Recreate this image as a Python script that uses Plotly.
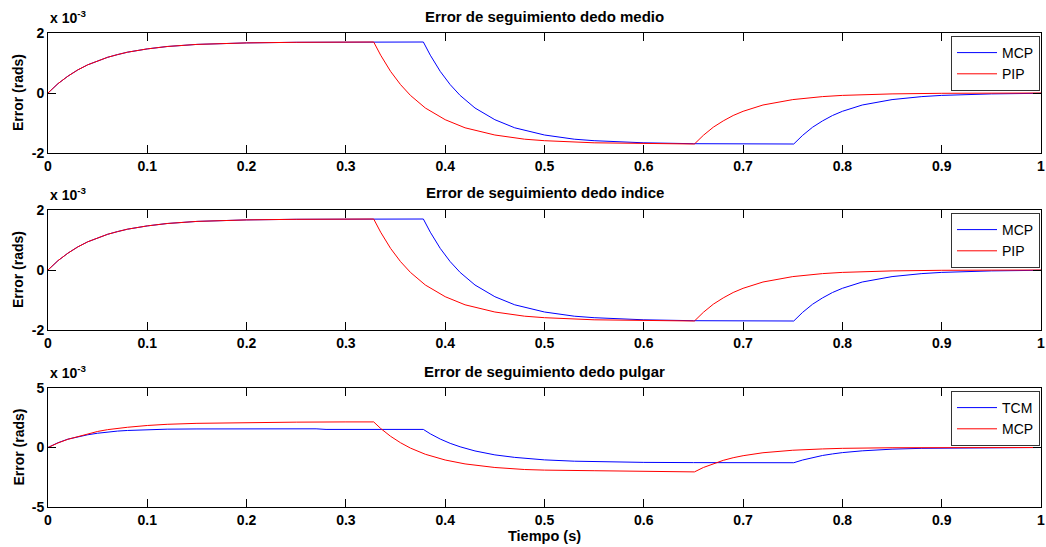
import plotly.graph_objects as go

W, H = 1046, 547

# ---- Dedo medio / dedo indice (values in units of 1e-3 rad) ----
t_pip = [0, 0.005, 0.01, 0.02, 0.03, 0.04, 0.05, 0.06, 0.07, 0.08, 0.1, 0.12, 0.15, 0.2, 0.25, 0.3,
         0.328, 0.335, 0.345, 0.355, 0.365, 0.38, 0.4, 0.42, 0.45, 0.48, 0.5, 0.55, 0.6, 0.651,
         0.66, 0.67, 0.68, 0.69, 0.7, 0.72, 0.75, 0.78, 0.8, 0.85, 0.9, 1.0]
pip_medio = [0, 0.16, 0.31, 0.56, 0.77, 0.94, 1.07, 1.19, 1.28, 1.36, 1.47, 1.55, 1.62, 1.67, 1.69, 1.70,
             1.70, 1.26, 0.72, 0.28, -0.08, -0.50, -0.89, -1.16, -1.40, -1.54, -1.59, -1.66, -1.69, -1.70,
             -1.41, -1.14, -0.93, -0.75, -0.61, -0.40, -0.22, -0.12, -0.08, -0.03, -0.01, 0]
t_mcp = [0, 0.005, 0.01, 0.02, 0.03, 0.04, 0.05, 0.06, 0.07, 0.08, 0.1, 0.12, 0.15, 0.2, 0.25, 0.3,
         0.378, 0.385, 0.395, 0.405, 0.415, 0.43, 0.45, 0.47, 0.5, 0.53, 0.55, 0.6, 0.65, 0.751,
         0.76, 0.77, 0.78, 0.79, 0.8, 0.82, 0.85, 0.88, 0.9, 0.95, 1.0]
mcp_medio = [0, 0.16, 0.31, 0.56, 0.77, 0.94, 1.07, 1.19, 1.28, 1.36, 1.47, 1.55, 1.62, 1.67, 1.69, 1.70,
             1.70, 1.26, 0.72, 0.28, -0.08, -0.50, -0.89, -1.16, -1.40, -1.54, -1.59, -1.66, -1.69, -1.70,
             -1.41, -1.14, -0.93, -0.75, -0.61, -0.40, -0.22, -0.12, -0.08, -0.03, -0.01]
pip_indice = list(pip_medio)
mcp_indice = list(mcp_medio)

# ---- Dedo pulgar ----
t_p_mcp = [0, 0.005, 0.01, 0.02, 0.03, 0.04, 0.05, 0.06, 0.07, 0.08, 0.1, 0.12, 0.15, 0.2, 0.25, 0.3,
           0.328, 0.335, 0.345, 0.355, 0.365, 0.38, 0.4, 0.42, 0.45, 0.48, 0.5, 0.55, 0.6, 0.63, 0.651,
           0.66, 0.67, 0.68, 0.69, 0.7, 0.72, 0.75, 0.78, 0.8, 0.85, 0.9, 1.0]
pulgar_mcp = [0, 0.2, 0.38, 0.69, 0.93, 1.15, 1.35, 1.5, 1.62, 1.7, 1.85, 1.95, 2.03, 2.1, 2.13, 2.15,
              2.15, 1.60, 0.94, 0.40, -0.05, -0.57, -1.05, -1.38, -1.68, -1.85, -1.90, -1.95, -1.98, -2.05, -2.05,
              -1.68, -1.35, -1.08, -0.86, -0.69, -0.44, -0.23, -0.12, -0.07, -0.02, -0.01, 0]
t_p_tcm = [0, 0.005, 0.01, 0.02, 0.03, 0.04, 0.05, 0.06, 0.07, 0.08, 0.1, 0.12, 0.15, 0.2, 0.27, 0.28,
           0.378, 0.385, 0.395, 0.405, 0.415, 0.43, 0.45, 0.47, 0.5, 0.53, 0.55, 0.6, 0.65, 0.751,
           0.76, 0.77, 0.78, 0.79, 0.8, 0.82, 0.85, 0.88, 0.9, 0.95, 1.0]
pulgar_tcm = [0, 0.21, 0.4, 0.7, 0.91, 1.07, 1.2, 1.3, 1.38, 1.43, 1.5, 1.54, 1.56, 1.57, 1.57, 1.52,
              1.52, 1.15, 0.71, 0.35, 0.06, -0.29, -0.62, -0.83, -1.04, -1.15, -1.19, -1.25, -1.27, -1.28,
              -1.05, -0.84, -0.67, -0.54, -0.43, -0.28, -0.14, -0.07, -0.05, -0.01, 0]

titles = ["Error de seguimiento dedo medio", "Error de seguimiento dedo indice",
          "Error de seguimiento dedo pulgar"]
x_ticks = [0, 0.1, 0.2, 0.3, 0.4, 0.5, 0.6, 0.7, 0.8, 0.9, 1]
y_ticks_12 = [-2, 0, 2]
y_ticks_3 = [-5, 0, 5]

BLUE = "#0000FF"
RED = "#FF0000"
FONT = "Liberation Sans, Arial, sans-serif"

tops = [33, 210, 388]
bots = [153, 330, 507]
x_left, x_right = 48, 1041

fig = go.Figure()

series = [
    [(t_mcp, mcp_medio, "MCP", BLUE), (t_pip, pip_medio, "PIP", RED)],
    [(t_mcp, mcp_indice, "MCP", BLUE), (t_pip, pip_indice, "PIP", RED)],
    [(t_p_tcm, pulgar_tcm, "TCM", BLUE), (t_p_mcp, pulgar_mcp, "MCP", RED)],
]

for i, grp in enumerate(series):
    suffix = "" if i == 0 else str(i + 1)
    for (tt, yy, name, col) in grp:
        fig.add_trace(go.Scatter(
            x=tt, y=yy, mode="lines", name=name,
            line=dict(color=col, width=1),
            xaxis="x" + suffix, yaxis="y" + suffix,
            legend="legend" + suffix,
        ))

layout = dict(
    width=W, height=H,
    margin=dict(l=0, r=0, t=0, b=0),
    paper_bgcolor="white", plot_bgcolor="white",
    template="none",
    font=dict(family=FONT, size=14, color="black"),
    showlegend=True,
)

annotations = []
for i in range(3):
    suffix = "" if i == 0 else str(i + 1)
    dom_y = [1 - bots[i] / H, 1 - tops[i] / H]
    axis_common = dict(
        showline=True, linecolor="black", linewidth=1, mirror="ticks",
        ticks="inside", ticklen=8, tickcolor="black", tickwidth=1,
        showgrid=False, zeroline=False, automargin=False,
        ticklabeloverflow="allow",
        tickfont=dict(family=FONT, size=14, color="black", weight="bold"),
    )
    layout["xaxis" + suffix] = dict(
        domain=[x_left / W, x_right / W], range=[0, 1],
        tickvals=x_ticks, ticktext=[("%g" % v) for v in x_ticks],
        anchor="y" + suffix, **axis_common)
    yt = y_ticks_12 if i < 2 else y_ticks_3
    layout["yaxis" + suffix] = dict(
        domain=dom_y, range=[yt[0], yt[-1]], tickvals=yt,
        ticktext=[str(v) for v in yt],
        anchor="x" + suffix, **axis_common)
    layout["legend" + suffix] = dict(
        x=(x_right - 1) / W, y=1 - (tops[i] + 3) / H, xanchor="right", yanchor="top",
        xref="paper", yref="paper",
        bgcolor="white", bordercolor="#333333", borderwidth=1,
        font=dict(family=FONT, size=14, color="black"),
        tracegroupgap=0, itemwidth=40,
    )
    # title
    annotations.append(dict(
        text=titles[i], x=(x_left + x_right) / 2 / W, y=1 - (tops[i] - 17) / H,
        xref="paper", yref="paper", xanchor="center", yanchor="middle", showarrow=False,
        font=dict(family=FONT, size=15, color="black", weight="bold")))
    # y label
    annotations.append(dict(
        text="Error (rads)", x=18 / W, y=1 - (tops[i] + bots[i]) / 2 / H,
        xref="paper", yref="paper", xanchor="center", yanchor="middle", showarrow=False,
        textangle=-90,
        font=dict(family=FONT, size=14, color="black", weight="bold")))
    # exponent
    annotations.append(dict(
        text="x 10<sup>-3</sup>", x=x_left / W, y=1 - (tops[i] - 5) / H,
        xref="paper", yref="paper", xanchor="left", yanchor="bottom", showarrow=False,
        font=dict(family=FONT, size=14, color="black", weight="bold")))

annotations.append(dict(
    text="Tiempo (s)", x=(x_left + x_right) / 2 / W, y=1 - 536 / H,
    xref="paper", yref="paper", xanchor="center", yanchor="middle", showarrow=False,
    font=dict(family=FONT, size=14.5, color="black", weight="bold")))

layout["annotations"] = annotations
fig.update_layout(**layout)

fig.write_html("out.html")
